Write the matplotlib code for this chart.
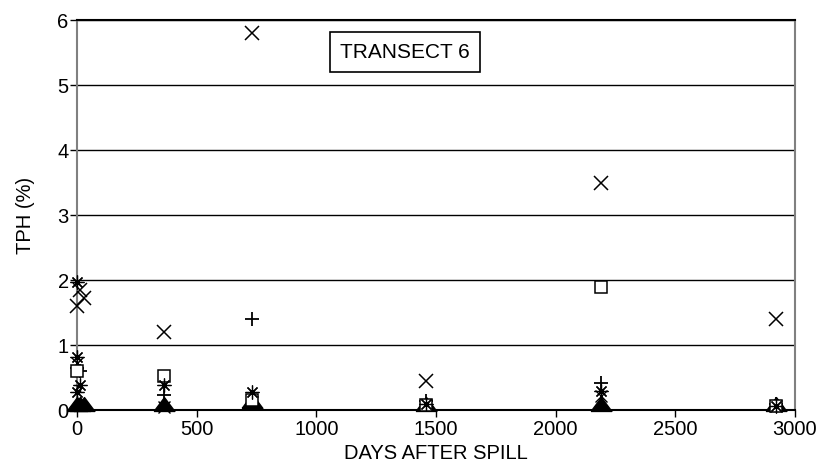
import matplotlib.pyplot as plt
import numpy as np

plt.rcParams['font.family'] = ['Liberation Sans', 'DejaVu Sans']

# TPH (%) readings on transect 6, one list per marker series
x_days = [0, 14, 30, 365, 730, 1460, 2190, 2920]
x_tph = [1.6, 1.85, 1.72, 1.2, 5.8, 0.45, 3.5, 1.4]

x2_days = [0, 365, 730, 1460, 2190, 2920]
x2_tph = [0.72, 0.05, 0.12, 0.08, 0.22, 0.06]

plus_days = [0, 14, 365, 730, 1460, 2190, 2920]
plus_tph = [0.65, 0.6, 0.23, 1.4, 0.14, 0.42, 0.09]

sq_days = [0, 365, 730, 1460, 2190, 2920]
sq_tph = [0.6, 0.53, 0.15, 0.08, 1.9, 0.06]

ast_days = [0, 0, 14, 0, 365, 730, 1460, 2190, 2920]
ast_tph = [1.97, 0.82, 0.38, 0.28, 0.38, 0.28, 0.1, 0.3, 0.06]

tri_days = [0, 14, 30, 365, 730, 1460, 2190, 2920]
tri_tph = [0.1, 0.1, 0.1, 0.1, 0.14, 0.1, 0.1, 0.1]

xticks = [0, 500, 1000, 1500, 2000, 2500, 3000]
yticks = [0, 1, 2, 3, 4, 5, 6]

fig = plt.figure(figsize=(8.18, 4.68), dpi=100)
ax = fig.add_axes([0.0941, 0.1239, 0.8778, 0.8333])

# horizontal grid lines at each whole percent
for yv in yticks[1:]:
    ax.axhline(yv, color='black', lw=1.0, zorder=1)

# squat filled triangle marker
tri = [(-1.5, -1), (1.5, -1), (0, 1), (-1.5, -1)]

common = dict(linestyle='none', clip_on=False, zorder=3)
ax.plot(tri_days, tri_tph, marker=tri, ms=15, color='black', **common)
ax.plot(x_days, x_tph, marker='x', ms=10, mew=1.1, color='black', **common)
ax.plot(x2_days, x2_tph, marker='x', ms=8, mew=1.0, color='black', **common)
ax.plot(plus_days, plus_tph, marker='+', ms=10, mew=1.3, color='black', **common)
ax.plot(sq_days, sq_tph, marker='s', ms=9, mew=1.1, mfc='white', mec='black', **common)
ax.plot(ast_days, ast_tph, marker=(8, 2, 0), ms=10, mew=0.9, color='black', **common)

ax.set_xlim(0, 3000)
ax.set_ylim(0, 6)
ax.set_xticks(xticks)
ax.set_yticks(yticks)
ax.tick_params(axis='both', labelsize=14.5, length=5, width=1, colors='black')
ax.tick_params(axis='y', pad=1)
ax.tick_params(axis='x', pad=2)

for side in ['left', 'right']:
    ax.spines[side].set_color('#808080')
    ax.spines[side].set_linewidth(1.5)
ax.spines['bottom'].set_linewidth(1.5)
ax.spines['top'].set_linewidth(1.5)

ax.set_xlabel('DAYS AFTER SPILL', fontsize=14.5, labelpad=4)
ax.set_ylabel('TPH (%)', fontsize=14.5, labelpad=16)

ax.text(0.457, 0.918, 'TRANSECT 6', transform=ax.transAxes, fontsize=15,
        ha='center', va='center', zorder=4,
        bbox=dict(boxstyle='square,pad=0.5', fc='white', ec='black', lw=1.2))

fig.savefig('out.png', dpi=100)
